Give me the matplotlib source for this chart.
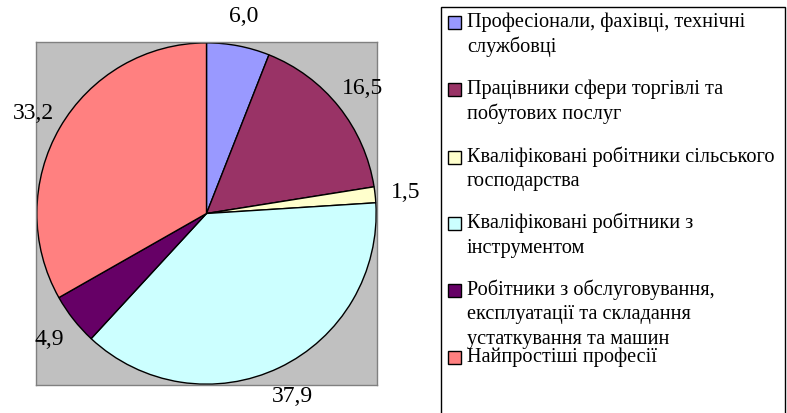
import matplotlib
matplotlib.use('Agg')
import matplotlib.pyplot as plt
from matplotlib.patches import Rectangle

plt.rcParams['font.family'] = ['Liberation Serif', 'DejaVu Serif']

# дані
categories = [
    'Професіонали, фахівці, технічні\nслужбовці',
    'Працівники сфери торгівлі та\nпобутових послуг',
    'Кваліфіковані робітники сільського\nгосподарства',
    'Кваліфіковані робітники з\nінструментом',
    'Робітники з обслуговування,\nексплуатації та складання\nустаткування та машин',
    'Найпростіші професії',
]
values = [6.0, 16.5, 1.5, 37.9, 4.9, 33.2]
colors = ['#9999FF', '#993366', '#FFFFCC', '#CCFFFF', '#660066', '#FF8080']

W, H = 787, 414
fig = plt.figure(figsize=(W / 100, H / 100), dpi=100)

# область діаграми (сірий квадрат)
ax = fig.add_axes([36 / W, (H - 386) / H, 341 / W, 343 / H])

labels = [f'{v:.1f}'.replace('.', ',') for v in values]
ax.pie(values, colors=colors, labels=labels, startangle=90, counterclock=False,
       labeldistance=1.18, radius=1,
       wedgeprops=dict(edgecolor='black', linewidth=1),
       textprops=dict(fontsize=17, ha='center', va='center'))
ax.set_frame_on(True)
ax.set_facecolor('#C0C0C0')
for s in ax.spines.values():
    s.set_visible(True)
    s.set_color('#808080')
    s.set_linewidth(1)
ax.set_xticks([])
ax.set_yticks([])
ax.set_xlim(-1.005, 1.005)
ax.set_ylim(-1.005, 1.005)
ax.set_aspect('auto')

# легенда
fig.patches.append(Rectangle((441 / W, -0.05), (785 - 441) / W, 1.05 - 8 / H,
                             transform=fig.transFigure, facecolor='white',
                             edgecolor='black', linewidth=1))
first_y = [22, 89, 157, 223, 290, 357]
for lab, col, y0 in zip(categories, colors, first_y):
    fig.patches.append(Rectangle((448 / W, 1 - (y0 + 7.5) / H), 13 / W, 13 / H,
                                 transform=fig.transFigure, facecolor=col,
                                 edgecolor='black', linewidth=1))
    for i, line in enumerate(lab.split('\n')):
        fig.text(467 / W, 1 - (y0 + i * 25) / H, line, fontsize=14.6,
                 ha='left', va='center')

fig.savefig('out.png', dpi=100)
